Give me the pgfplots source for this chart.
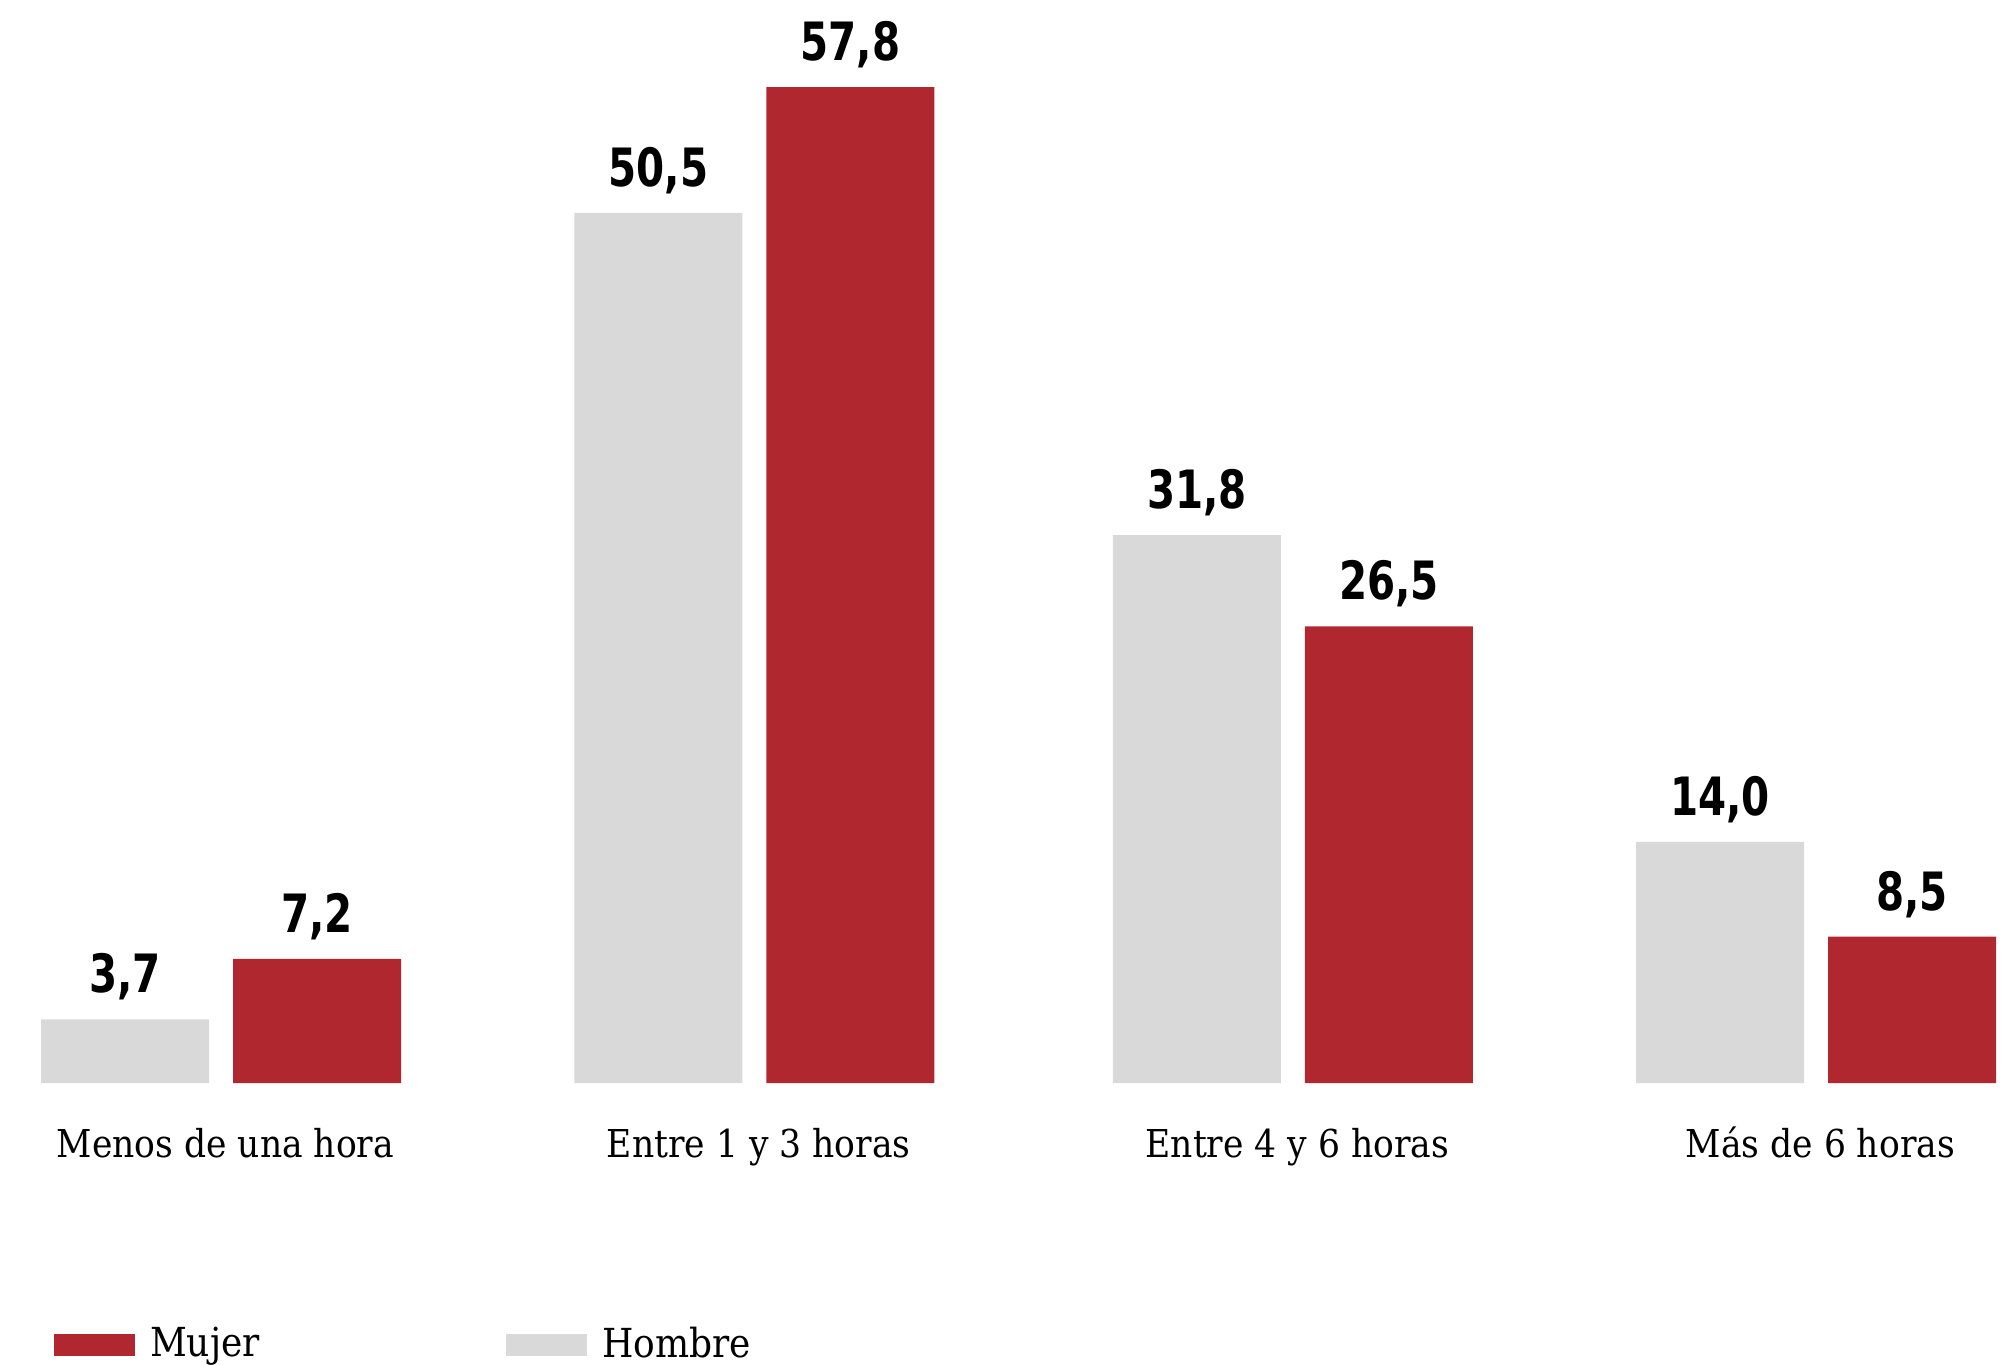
\documentclass[border=0pt]{standalone}
\usepackage{pgfplots}
\pgfplotsset{compat=1.18}
\usepackage{fontspec}
\setmainfont{DejaVu Serif Condensed}
\newfontfamily\valfont[FakeStretch=0.85]{DejaVu Sans Condensed}
\definecolor{mujer}{HTML}{B12730}
\definecolor{hombre}{HTML}{D9D9D9}
\begin{document}
\begin{tikzpicture}
\path[use as bounding box] (0,0) rectangle (503pt,341pt);
\begin{axis}[
  at={(0pt,70.25pt)}, anchor=south west,
  scale only axis, width=503pt, height=270.75pt,
  xmin=-0.4157, xmax=3.3686, ymin=0, ymax=62.85,
  axis line style={draw=none}, tick style={draw=none}, major tick length=0pt,
  ytick=\empty,
  xtick={0,1.003,2.016,3},
  xticklabels={Menos de una hora, Entre 1 y 3 horas, Entre 4 y 6 horas, Más de 6 horas},
  xticklabel style={anchor=base, yshift=-18.5pt, xshift=1.1pt, font=\fontsize{9.6}{11}\selectfont},
  ybar, bar width=42pt, clip=false,
  nodes near coords,
  every node near coord/.append style={font=\valfont\bfseries\fontsize{13.2}{15}\selectfont, anchor=base, yshift=6.6pt, text=black},
  /pgf/number format/use comma,
  /pgf/number format/fixed,
  /pgf/number format/fixed zerofill,
  /pgf/number format/precision=1,
  /pgf/number format/assume math mode=true,
  legend columns=2,
  legend image code/.code={\fill[#1] (0pt,-2.8pt) rectangle (20.25pt,2.8pt);},
  legend style={at={(axis description cs:0.0268,-0.2419)}, anchor=west, draw=none, fill=none, inner sep=0pt, outer sep=0pt, font=\fontsize{10}{12}\selectfont,
    /tikz/every odd column/.append style={column sep=1.8pt},
    /tikz/every even column/.append style={column sep=59.6pt}},
]
\addplot[forget plot, fill=hombre, draw=none, bar shift=-24pt] coordinates {(0,3.7) (1.003,50.5) (2.016,31.8) (3,14.0)};
\addplot[forget plot, fill=mujer, draw=none, bar shift=24pt] coordinates {(0,7.2) (1.003,57.8) (2.016,26.5) (3,8.5)};
\addlegendimage{fill=mujer, draw=none}
\addlegendentry{Mujer}
\addlegendimage{fill=hombre, draw=none}
\addlegendentry{Hombre}
\end{axis}
\end{tikzpicture}
\end{document}
